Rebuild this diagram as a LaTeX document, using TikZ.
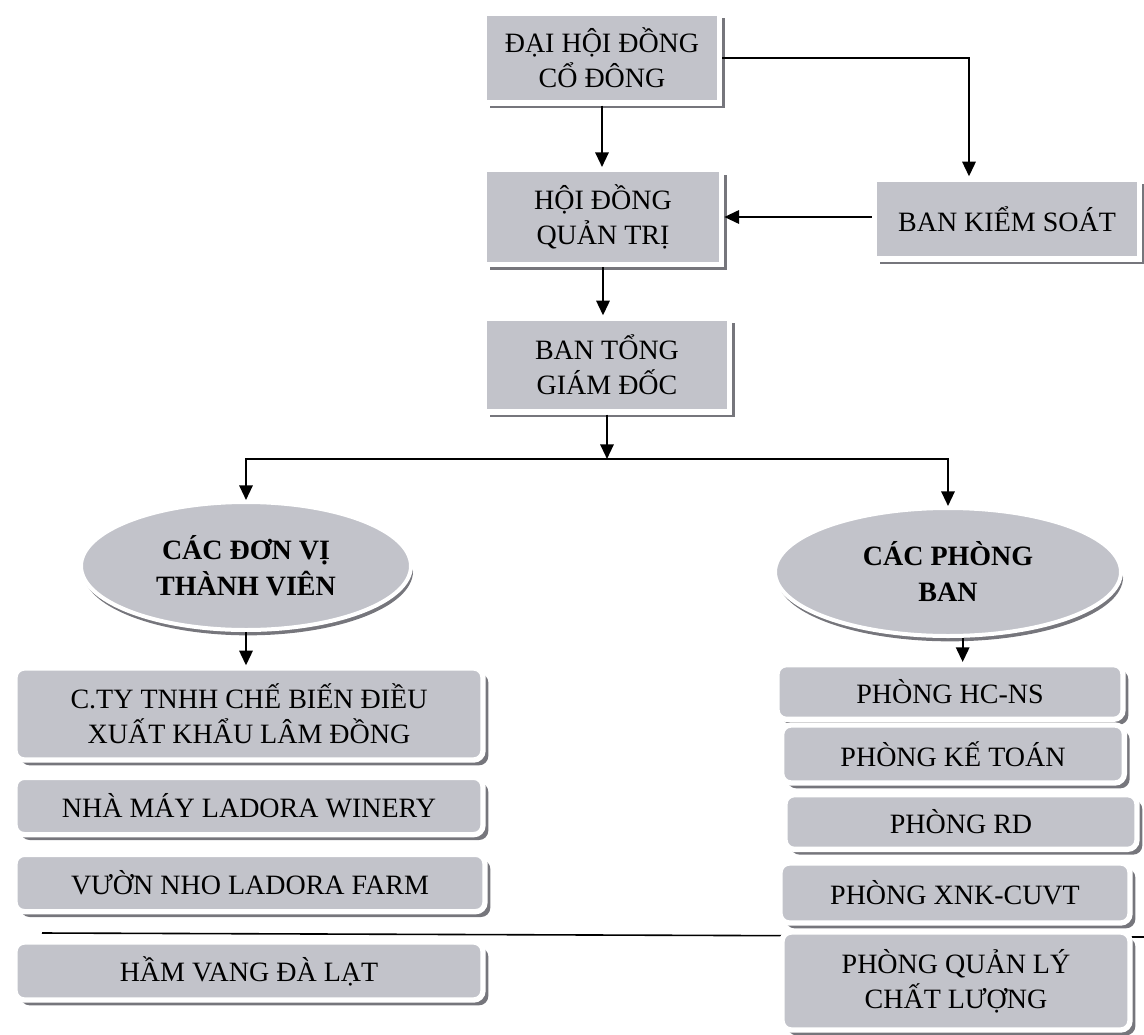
\documentclass[tikz,border=0pt]{standalone}
\usepackage{fontspec}
\setmainfont{Liberation Serif}
\usetikzlibrary{arrows.meta,shapes.geometric,shadows}

\definecolor{boxgray}{RGB}{194,195,202}
\definecolor{shadegray}{RGB}{118,118,124}

\tikzset{every picture/.style={line width=1.5pt}}
\tikzset{
  plainbox/.style={rectangle, fill=boxgray, draw=white, line width=4pt, align=center, inner sep=2pt,
    font=\fontsize{21}{26.5}\selectfont,
    drop shadow={shadow xshift=4pt, shadow yshift=-4pt, fill=shadegray, opacity=1}},
  roundbox/.style={plainbox, rounded corners=7pt},
  oval/.style={ellipse, fill=boxgray, draw=white, line width=3pt, align=center, inner sep=1pt,
    font=\fontsize{21}{27}\selectfont\bfseries,
    drop shadow={shadow xshift=1.5pt, shadow yshift=-4pt, fill=shadegray, opacity=1}},
  arr/.style={-{Triangle[length=11pt,width=10pt]}, line width=1.6pt},
}

\begin{document}
\begin{tikzpicture}[x=0.75pt,y=0.75pt,yscale=-1,xscale=1]
\useasboundingbox (0,0) rectangle (1144,1034);

%Straight Lines: stray rule
\coordinate (rulel) at (42,933);
\coordinate (ruler) at (1144,937);
\draw [line width=1.2pt] (rulel) -- (ruler);

%Shape: Rectangle
\node [plainbox, minimum width=176pt, minimum height=67.5pt] (dhdcd) at (602,58) {ĐẠI HỘI ĐỒNG\\CỔ ĐÔNG};
%Shape: Rectangle
\node [plainbox, minimum width=178pt, minimum height=71pt] (hdqt) at (603,217) {HỘI ĐỒNG\\QUẢN TRỊ};
%Shape: Rectangle
\node [plainbox, minimum width=199pt, minimum height=60pt] (bks) at (1007,219) {BAN KIỂM SOÁT};
%Shape: Rectangle
\node [plainbox, minimum width=184pt, minimum height=70.5pt] (btgd) at (607,365) {BAN TỔNG\\GIÁM ĐỐC};

%Shape: Ellipse
\node [oval, minimum width=247.5pt, minimum height=96pt] (dv) at (246,566) {CÁC ĐƠN VỊ\\THÀNH VIÊN};
%Shape: Ellipse
\node [oval, minimum width=259.5pt, minimum height=96pt] (pb) at (948,572) {CÁC PHÒNG\\BAN};

%Shape: Rounded Rect (member units)
\node [roundbox, minimum width=351pt, minimum height=69pt] (cty) at (249,714) {C.TY TNHH CHẾ BIẾN ĐIỀU\\XUẤT KHẨU LÂM ĐỒNG};
\node [roundbox, minimum width=351pt, minimum height=43pt] (nhamay) at (249,806) {NHÀ MÁY LADORA WINERY};
\node [roundbox, minimum width=352.5pt, minimum height=43pt] (vuon) at (250,883) {VƯỜN NHO LADORA FARM};
\node [roundbox, minimum width=351pt, minimum height=43.5pt] (ham) at (249,971) {HẦM VANG ĐÀ LẠT};

%Shape: Rounded Rect (departments)
\node [roundbox, minimum width=259.5pt, minimum height=41pt] (hcns) at (950,692) {PHÒNG HC-NS};
\node [roundbox, minimum width=257pt, minimum height=43.5pt] (ketoan) at (953,754) {PHÒNG KẾ TOÁN};
\node [roundbox, minimum width=264pt, minimum height=41pt] (rd) at (961,822) {PHÒNG RD};
\node [roundbox, minimum width=262.5pt, minimum height=45pt] (xnk) at (955,893) {PHÒNG XNK-CUVT};
\node [roundbox, minimum width=261pt, minimum height=73.5pt] (qlcl) at (956,981) {PHÒNG QUẢN LÝ\\CHẤT LƯỢNG};

%Straight Lines
\draw [arr] (dhdcd.south) -- (dhdcd.south |- hdqt.north);
\draw [arr] (dhdcd.east) -| ([xshift=-28.5pt]bks.north);
\draw [arr] (bks.west |- hdqt.east) -- (hdqt.east);
\draw [arr] (hdqt.south) -- (hdqt.south |- btgd.north);
\coordinate (split) at (607,459);
\draw [arr] (btgd.south) -- (split);
\draw [arr] (split) -| (dv.north);
\draw [arr] (split) -| (pb.north);
\draw [arr] (dv.south) -- (dv.south |- cty.north);
\draw [arr] ([xshift=11pt]pb.south) -- ([xshift=11pt]pb.south |- hcns.north);

\end{tikzpicture}
\end{document}
